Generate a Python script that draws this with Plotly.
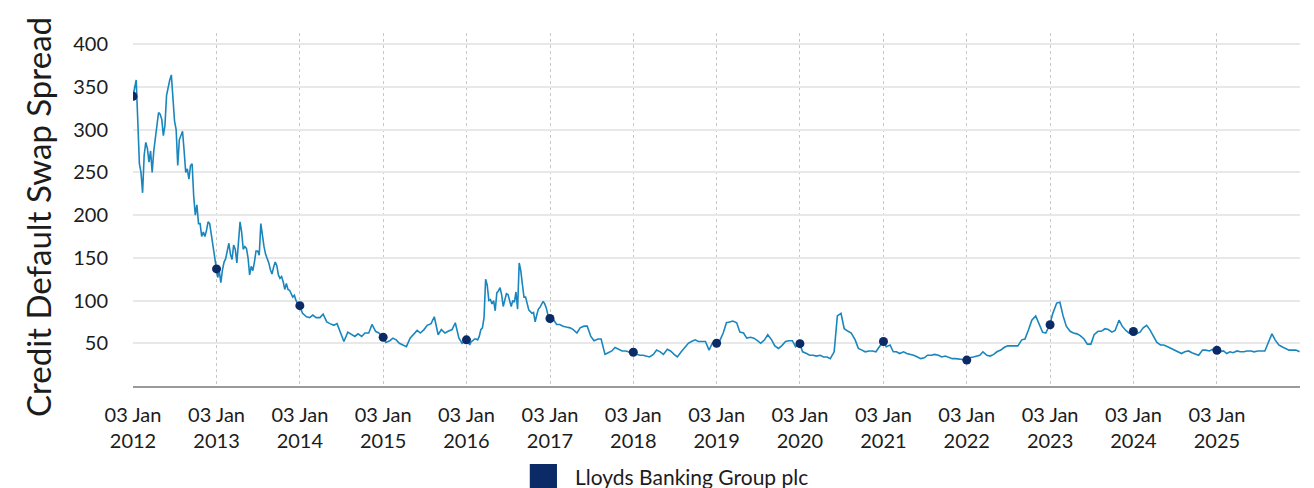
import pandas as pd
import plotly.graph_objects as go

series_name = "Lloyds Banking Group plc"
y_title = "Credit Default Swap Spread"

# weekly readings for the volatile 2012-2013 period (from 03 Jan 2012)
cds_2012_weekly = [339, 350, 358, 310, 260, 250, 226, 270, 285, 278, 262, 275,
                   250, 275, 290, 302, 320, 318, 312, 293, 305, 340, 350, 358,
                   364, 340, 310, 300, 258, 288, 293, 298, 275, 250, 254, 242,
                   258, 260, 222, 200, 212, 190, 190, 175, 180, 175, 182, 192,
                   190, 177, 168, 150]
cds_2013_weekly = [138, 127, 134, 121, 136, 145, 149, 158, 167, 154, 148, 165,
                   160, 144, 165, 192, 180, 160, 163, 161, 150, 130, 140, 135,
                   145, 158, 158, 153, 190, 175, 163, 154, 149, 144, 136, 131,
                   139, 145, 141, 130, 126, 128, 122, 113, 120, 113, 112, 107,
                   104, 106, 100, 97]

# semi-monthly readings (1st and 15th of each month)
cds_2014 = [94, 85, 81, 80, 83, 80, 80, 84, 75, 73, 71, 73,
            62, 52, 63, 61, 58, 61, 58, 62, 62, 72, 64, 62]
cds_2015 = [57, 51, 53, 56, 54, 50, 48, 46, 56, 60, 65, 62,
            66, 71, 73, 81, 60, 66, 62, 64, 66, 74, 56, 50]

# weekly readings for 2016 (from 03 Jan 2016)
cds_2016_weekly = [54, 53, 48, 52, 53, 55, 55, 54, 58, 66, 68, 80,
                   125, 118, 100, 101, 96, 100, 88, 109, 111, 115, 107, 93,
                   100, 108, 107, 98, 93, 100, 98, 110, 90, 144, 135, 119,
                   104, 104, 95, 89, 87, 85, 86, 75, 83, 90, 92, 96,
                   99, 96, 91, 83]

cds_2017 = [78, 79, 72, 72, 70, 69, 68, 66, 62, 68, 70, 70,
            58, 53, 55, 55, 37, 39, 41, 45, 43, 41, 41, 40]
cds_2018 = [39, 38, 36, 36, 35, 34, 37, 42, 40, 37, 43, 41,
            37, 34, 40, 45, 50, 52, 54, 52, 52, 52, 42, 50]
cds_2019 = [50, 52, 62, 74, 75, 76, 74, 63, 62, 56, 57, 56,
            53, 50, 54, 60, 54, 47, 44, 47, 52, 53, 53, 46]
cds_2020 = [50, 40, 38, 36, 36, 35, 36, 34, 34, 32, 40, 82,
            85, 67, 64, 62, 54, 44, 42, 40, 41, 41, 40, 46]
cds_2021 = [52, 46, 48, 40, 40, 38, 40, 38, 37, 36, 34, 32,
            33, 36, 36, 37, 36, 34, 35, 34, 32, 32, 31, 31]
cds_2022 = [30, 33, 34, 35, 36, 40, 36, 35, 37, 40, 42, 45,
            47, 47, 47, 47, 54, 55, 66, 77, 82, 74, 63, 62]
cds_2023 = [71, 85, 97, 98, 82, 70, 64, 62, 61, 59, 55, 49,
            49, 60, 64, 64, 67, 66, 63, 65, 77, 70, 65, 62]
cds_2024 = [64, 61, 63, 68, 71, 66, 58, 51, 48, 48, 46, 44,
            42, 40, 38, 40, 41, 39, 37, 36, 42, 42, 41, 43]
cds_2025 = [42, 40, 41, 38, 40, 39, 41, 40, 40, 41, 41, 40,
            41, 41, 41, 50, 61, 54, 48, 46, 44, 42, 42, 42, 40]

seg1_values = cds_2012_weekly + cds_2013_weekly
seg1_dates = list(pd.date_range("2012-01-03", periods=len(seg1_values), freq="7D"))

seg2_values = cds_2014 + cds_2015
seg2_dates = list(pd.date_range("2014-01-01", "2015-12-31", freq="SMS"))

seg3_values = cds_2016_weekly
seg3_dates = list(pd.date_range("2016-01-03", periods=len(seg3_values), freq="7D"))

seg4_values = (cds_2017 + cds_2018 + cds_2019 + cds_2020 + cds_2021 +
               cds_2022 + cds_2023 + cds_2024 + cds_2025)
seg4_dates = list(pd.date_range("2017-01-01", "2025-12-31", freq="SMS"))
seg4_dates.append(pd.Timestamp("2025-12-31"))

dates = seg1_dates + seg2_dates + seg3_dates + seg4_dates
values = seg1_values + seg2_values + seg3_values + seg4_values

# yearly markers on 03 Jan
marker_years = list(range(2012, 2026))
marker_dates = [f"{y}-01-03" for y in marker_years]
marker_values = [339, 137, 94, 57, 54, 79, 39.5, 50, 49.5, 52, 30.3, 71.7, 63.8, 41.7]

tick_dates = marker_dates
tick_text = [f"03 Jan<br>{y}" for y in marker_years]
y_ticks = [50, 100, 150, 200, 250, 300, 350, 400]

FONT = "Lato, 'Open Sans', sans-serif"
LINE_COLOR = "#1a86be"
NAVY = "#0b2a66"
TEXT = "#1c1c1c"

fig = go.Figure()
fig.add_trace(go.Scatter(
    x=dates, y=values, mode="lines",
    line=dict(color=LINE_COLOR, width=1.6),
    name=series_name, showlegend=False, hoverinfo="x+y",
))
fig.add_trace(go.Scatter(
    x=marker_dates, y=marker_values, mode="markers",
    marker=dict(color=NAVY, size=9),
    name=series_name, showlegend=False,
))

fig.update_layout(
    width=1306, height=480,
    margin=dict(l=125, r=14, t=25, b=102),
    paper_bgcolor="white", plot_bgcolor="white",
    font=dict(family=FONT, color=TEXT, size=20),
    showlegend=False,
    xaxis=dict(
        type="date",
        range=["2012-01-03", "2026-01-02"],
        tickvals=tick_dates, ticktext=tick_text,
        tickfont=dict(size=20, color=TEXT),
        showgrid=True, gridcolor="#c8c8c8", gridwidth=1, griddash="3px,3px",
        showline=True, linecolor="#9a9a9a", linewidth=2,
        ticks="outside", ticklen=10, tickcolor="rgba(0,0,0,0)",
        zeroline=False,
    ),
    yaxis=dict(
        range=[0, 413],
        tickvals=y_ticks,
        tickfont=dict(size=20, color=TEXT),
        showgrid=True, gridcolor="#e8e8e8", gridwidth=1.5,
        showline=False, zeroline=False,
        ticks="outside", ticklen=20, tickcolor="rgba(0,0,0,0)",
    ),
    annotations=[
        dict(text=y_title, xref="paper", yref="paper", x=-0.0814, y=0.479,
             xanchor="center", yanchor="middle", textangle=-90, showarrow=False,
             font=dict(size=33, color=TEXT, family=FONT)),
        dict(text=series_name, xref="paper", yref="paper", x=0.377, y=-0.255,
             xanchor="left", yanchor="middle", showarrow=False,
             font=dict(size=21, color=TEXT, family=FONT)),
    ],
    shapes=[
        dict(type="rect", xref="paper", yref="paper", x0=0.340, x1=0.3633,
             y0=-0.297, y1=-0.221, fillcolor=NAVY, line=dict(width=0)),
    ],
)

fig.write_html("out.html")
